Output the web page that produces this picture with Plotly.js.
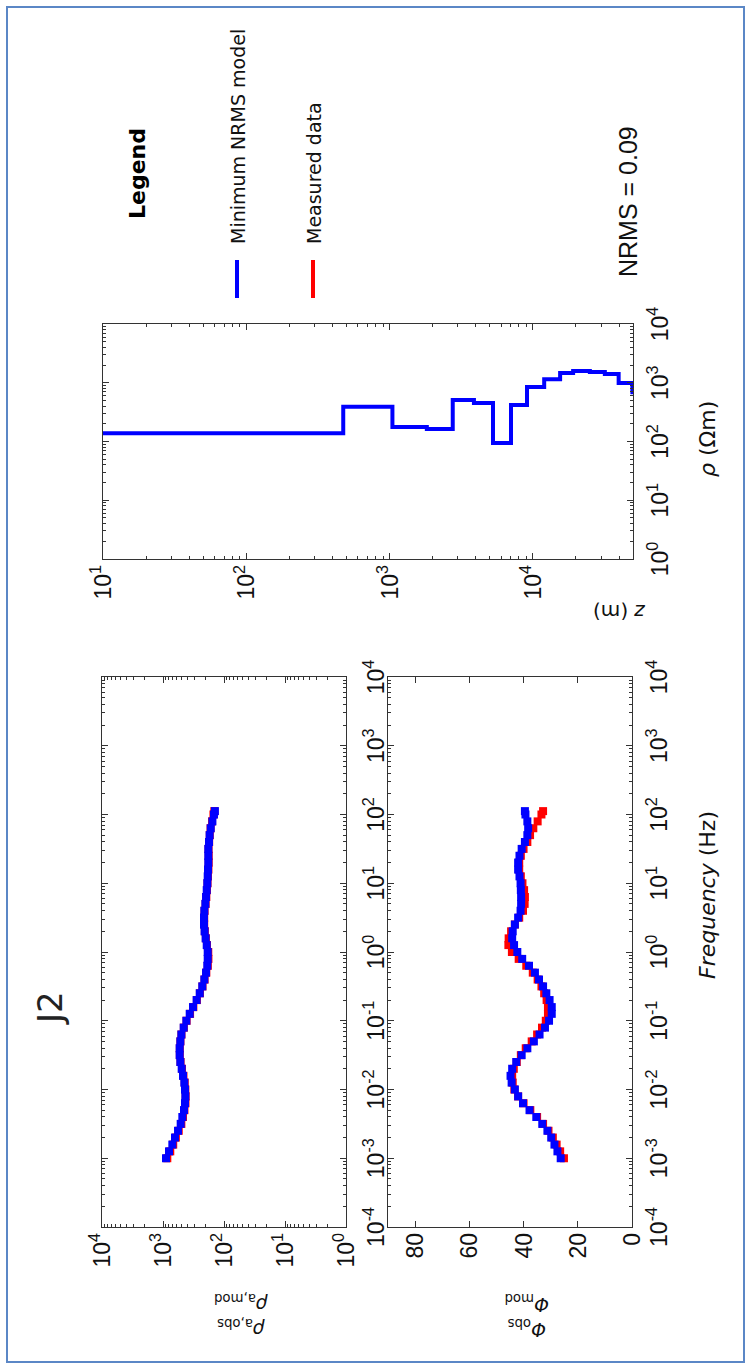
<!DOCTYPE html>
<html><head><meta charset="utf-8">
<script src="https://cdn.plot.ly/plotly-3.0.1.min.js"></script>
<style>
html,body{margin:0;padding:0;background:#fff;overflow:hidden;width:747px;height:1367px;}
#chart{position:absolute;left:0;top:0;width:1367px;height:747px;transform-origin:0 0;transform:translate(0px,1367px) rotate(-90deg);}
#frame{position:absolute;left:6px;top:6px;width:739px;height:1357px;border:2px solid #5b87c6;box-sizing:border-box;pointer-events:none;}
</style></head><body>
<div id="chart"></div><div id="frame"></div>
<script>
// ---------------- data ----------------
const frequencyHz = [0.001, 0.00126, 0.00158, 0.002, 0.00251, 0.00316, 0.00398, 0.00501, 0.00631, 0.00794,
  0.01, 0.0126, 0.0158, 0.02, 0.0251, 0.0316, 0.0398, 0.0501, 0.0631, 0.0794,
  0.1, 0.126, 0.158, 0.2, 0.251, 0.316, 0.398, 0.501, 0.631, 0.794,
  1, 1.26, 1.58, 2, 2.51, 3.16, 3.98, 5.01, 6.31, 7.94,
  10, 12.6, 15.8, 20, 25.1, 31.6, 39.8, 50.1, 63.1, 79.4,
  100, 112];
const rhoaModel = [893, 798, 703, 636, 567, 513, 482, 453, 436, 430,
  436, 447, 470, 494, 520, 533, 533, 520, 500, 458,
  414, 365, 322, 281, 250, 227, 210, 197, 188, 185,
  185, 192, 200, 208, 213, 213, 210, 202, 197, 192,
  188, 185, 183, 181, 181, 181, 176, 172, 165, 155,
  146, 141];
const rhoaMeasured = [850, 760, 680, 615, 552, 500, 470, 445, 428, 425,
  430, 440, 462, 488, 515, 530, 530, 518, 498, 455,
  410, 360, 318, 278, 248, 225, 208, 195, 184, 180,
  181, 190, 198, 206, 211, 211, 208, 200, 195, 190,
  186, 183, 180, 178, 178, 179, 175, 171, 166, 157,
  149, 144];
const phaseModel = [26.3, 27.5, 28.6, 29.8, 31.2, 33.1, 35.3, 37.8, 40.2, 42.0,
  43.2, 44.4, 44.8, 44.2, 42.7, 40.7, 38.6, 36.2, 34.1, 32.1,
  30.6, 29.6, 29.6, 30.4, 31.6, 32.8, 34.3, 35.8, 38.0, 40.5,
  42.3, 43.5, 44.2, 44.0, 43.2, 42.0, 41.1, 40.9, 40.9, 41.0,
  41.1, 41.5, 42.0, 42.0, 41.5, 40.7, 39.5, 38.6, 38.3, 38.6,
  39.3, 39.5];
const phaseMeasured = [25.1, 26.5, 27.8, 29.2, 30.8, 32.8, 35.0, 37.5, 40.0, 42.0,
  43.4, 44.0, 44.2, 43.6, 42.5, 41.0, 39.2, 37.0, 35.0, 33.2,
  31.8, 31.0, 31.0, 31.5, 32.4, 33.4, 34.8, 36.6, 39.0, 41.8,
  44.3, 45.6, 45.5, 44.6, 43.2, 41.6, 40.2, 39.6, 39.5, 39.8,
  40.4, 41.0, 41.6, 41.6, 41.0, 40.0, 38.6, 37.6, 36.4, 34.8,
  33.4, 32.8];
// layered model: top depth of each layer (m) and its resistivity (ohm m)
const layerTopDepth = [1, 475, 1047, 1820, 2760, 3880, 5270, 7040, 9100, 12000, 15500, 19100, 25000, 31800, 39700, 49500];
const layerResistivity = [138, 389, 177, 163, 510, 452, 94, 418, 845, 1150, 1470, 1590, 1520, 1410, 990, 690];
const modelBottomDepth = 100000;

const freqTickVals = [1e-4, 1e-3, 1e-2, 1e-1, 1, 10, 100, 1000, 10000];
const freqTickText = ['10<sup>-4</sup>','10<sup>-3</sup>','10<sup>-2</sup>','10<sup>-1</sup>','10<sup>0</sup>','10<sup>1</sup>','10<sup>2</sup>','10<sup>3</sup>','10<sup>4</sup>'];
const rhoaTickVals = [1, 10, 100, 1000, 10000];
const rhoaTickText = ['10<sup>0</sup>','10<sup>1</sup>','10<sup>2</sup>','10<sup>3</sup>','10<sup>4</sup>'];
const phaseTickVals = [0, 20, 40, 60, 80];
const phaseTickText = ['0','20','40','60','80'];
const depthTickVals = [10, 100, 1000, 10000];
const depthTickText = ['10<sup>1</sup>','10<sup>2</sup>','10<sup>3</sup>','10<sup>4</sup>'];
const resTickVals = [1, 10, 100, 1000, 10000];
const resTickText = ['10<sup>0</sup>','10<sup>1</sup>','10<sup>2</sup>','10<sup>3</sup>','10<sup>4</sup>'];

const siteName = 'J2';
const nrmsValue = 0.09;

// ---------------- helpers ----------------
function minorLogTicks(lo, hi) {
  const out = [];
  for (let e = lo; e < hi; e++) for (let m = 2; m <= 9; m++) out.push(m * Math.pow(10, e));
  return out;
}
const W = 1367, H = 747;
const px = v => v / W;
const py = v => 1 - v / H;

const AXC = '#333333';
const tickFont = {family: 'Liberation Sans, Arial, sans-serif', size: 23, color: '#111'};
const textFont = 'DejaVu Sans, Verdana, sans-serif';
function axis(extra) {
  return Object.assign({
    showline: true, linecolor: AXC, linewidth: 1.4, mirror: 'allticks',
    ticks: 'inside', ticklen: 6, tickwidth: 1, tickcolor: AXC,
    showgrid: false, zeroline: false, automargin: false,
    tickfont: tickFont, tickmode: 'array'
  }, extra);
}
function logMinor(lo, hi) {
  return {ticks: 'inside', ticklen: 3, tickwidth: 1, tickcolor: AXC, showgrid: false,
          tickmode: 'array', tickvals: minorLogTicks(lo, hi)};
}

// step path of the layered model
const stepRho = [], stepDepth = [];
layerTopDepth.forEach((top, i) => {
  const bottom = i + 1 < layerTopDepth.length ? layerTopDepth[i + 1] : modelBottomDepth;
  stepRho.push(layerResistivity[i], layerResistivity[i]);
  stepDepth.push(top, bottom);
});

const mk = c => ({symbol: 'square', size: 8, color: c, line: {width: 0}});
const traces = [
  {x: frequencyHz, y: rhoaMeasured, xaxis: 'x', yaxis: 'y', mode: 'markers', marker: mk('#ff0000'), name: 'Measured data'},
  {x: frequencyHz, y: rhoaModel, xaxis: 'x', yaxis: 'y', mode: 'markers', marker: mk('#0000ff'), name: 'Minimum NRMS model'},
  {x: frequencyHz, y: phaseMeasured, xaxis: 'x2', yaxis: 'y2', mode: 'markers', marker: mk('#ff0000'), name: 'Measured data'},
  {x: frequencyHz, y: phaseModel, xaxis: 'x2', yaxis: 'y2', mode: 'markers', marker: mk('#0000ff'), name: 'Minimum NRMS model'},
  {x: stepRho, y: stepDepth, xaxis: 'x3', yaxis: 'y3', mode: 'lines', line: {color: '#0000ff', width: 4}, name: 'Minimum NRMS model'}
];

const freqDomain = [px(140), px(690)];
const layout = {
  width: W, height: H,
  margin: {l: 0, r: 0, t: 0, b: 0},
  paper_bgcolor: '#fff', plot_bgcolor: '#fff',
  showlegend: false,
  xaxis: axis({type: 'log', range: [-4, 4], domain: freqDomain, anchor: 'y', ticklabelstandoff: 9,
               tickvals: freqTickVals, ticktext: freqTickText, minor: logMinor(-4, 4)}),
  yaxis: axis({type: 'log', range: [0, 4], domain: [py(346), py(102)], anchor: 'x',
               tickvals: rhoaTickVals, ticktext: rhoaTickText, minor: logMinor(0, 4)}),
  xaxis2: axis({type: 'log', range: [-4, 4], domain: freqDomain, anchor: 'y2', ticklabelstandoff: 6,
               tickvals: freqTickVals, ticktext: freqTickText, minor: logMinor(-4, 4)}),
  yaxis2: axis({type: 'linear', range: [0, 90], domain: [py(632), py(388)], anchor: 'x2',
               tickvals: phaseTickVals, ticktext: phaseTickText}),
  xaxis3: axis({type: 'log', range: [0, 4], domain: [px(808), px(1043)], anchor: 'y3', ticklabelstandoff: 6,
               tickvals: resTickVals, ticktext: resTickText, minor: logMinor(0, 4)}),
  yaxis3: axis({type: 'log', range: [Math.log10(50000), 1], domain: [py(633), py(103)], anchor: 'x3',
               tickvals: depthTickVals, ticktext: depthTickText, minor: logMinor(1, 5)}),
  shapes: [
    {type: 'line', xref: 'paper', yref: 'paper', x0: px(1069), x1: px(1107), y0: py(237), y1: py(237), line: {color: '#0000ff', width: 4}},
    {type: 'line', xref: 'paper', yref: 'paper', x0: px(1069), x1: px(1107), y0: py(313), y1: py(313), line: {color: '#ff0000', width: 4}}
  ],
  annotations: [
    {text: siteName, x: px(359), y: py(50), xref: 'paper', yref: 'paper', showarrow: false, xanchor: 'center', yanchor: 'middle',
     font: {family: textFont, size: 34, color: '#222'}},
    {text: '<i>ρ</i><sub>a,obs</sub><br><i>ρ</i><sub>a,mod</sub>', x: px(51), y: py(241), xref: 'paper', yref: 'paper', showarrow: false,
     textangle: -90, xanchor: 'center', yanchor: 'middle', font: {family: textFont, size: 19, color: '#111'}},
    {text: '<i>Φ</i><sub>obs</sub><br><i>Φ</i><sub>mod</sub>', x: px(51), y: py(527), xref: 'paper', yref: 'paper', showarrow: false,
     textangle: -90, xanchor: 'center', yanchor: 'middle', font: {family: textFont, size: 19, color: '#111'}},
    {text: '<i>Frequency</i> (Hz)', x: px(472), y: py(707), xref: 'paper', yref: 'paper', showarrow: false,
     xanchor: 'center', yanchor: 'middle', font: {family: textFont, size: 22, color: '#111'}},
    {text: '<i>ρ</i> (Ωm)', x: px(928), y: py(707), xref: 'paper', yref: 'paper', showarrow: false,
     xanchor: 'center', yanchor: 'middle', font: {family: textFont, size: 22, color: '#111'}},
    {text: '<i>z</i> (m)', x: px(755), y: py(620), xref: 'paper', yref: 'paper', showarrow: false, textangle: -90,
     xanchor: 'center', yanchor: 'middle', font: {family: textFont, size: 20, color: '#111'}},
    {text: '<b>Legend</b>', x: px(1193), y: py(138), xref: 'paper', yref: 'paper', showarrow: false,
     xanchor: 'center', yanchor: 'middle', font: {family: textFont, size: 22, color: '#000'}},
    {text: 'Minimum NRMS model', x: px(1121), y: py(238), xref: 'paper', yref: 'paper', showarrow: false,
     xanchor: 'left', yanchor: 'middle', font: {family: textFont, size: 19, color: '#111'}},
    {text: 'Measured data', x: px(1121), y: py(314), xref: 'paper', yref: 'paper', showarrow: false,
     xanchor: 'left', yanchor: 'middle', font: {family: textFont, size: 19, color: '#111'}},
    {text: 'NRMS = ' + nrmsValue.toFixed(2), x: px(1165), y: py(628), xref: 'paper', yref: 'paper', showarrow: false,
     xanchor: 'center', yanchor: 'middle', font: {family: 'Liberation Sans, Arial, sans-serif', size: 25, color: '#111'}}
  ]
};

Plotly.newPlot('chart', traces, layout, {displayModeBar: false, staticPlot: true});
</script></body></html>
